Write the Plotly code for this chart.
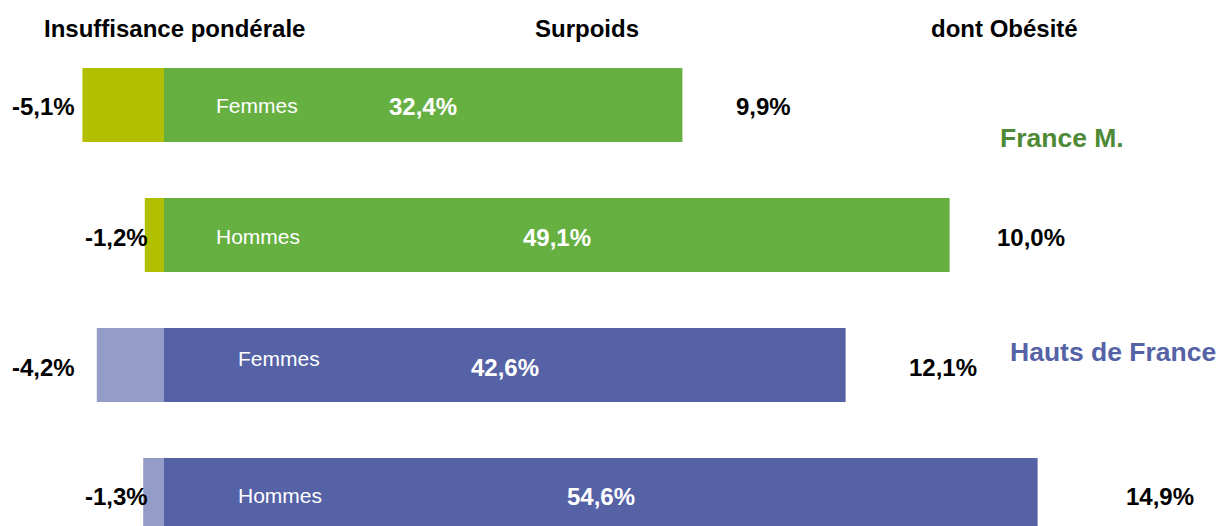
import plotly.graph_objects as go

# ---- data ----
rows = ["Femmes", "Hommes", "Femmes", "Hommes"]
groups = ["France M.", "Hauts de France"]
insuffisance = [-5.1, -1.2, -4.2, -1.3]
surpoids = [32.4, 49.1, 42.6, 54.6]
obesite = [9.9, 10.0, 12.1, 14.9]
headers = ["Insuffisance pondérale", "Surpoids", "dont Obésité"]

# ---- styles / layout positions ----
neg_colors = ["#B2BE00", "#B2BE00", "#939DC8", "#939DC8"]
pos_colors = ["#66B042", "#66B042", "#5562A6", "#5562A6"]
group_colors = ["#4E8A35", "#5562A6"]
neg_label_x = [-5.45, -0.85, -5.45, -0.9]
row_label_x = [3.15, 3.15, 4.5, 4.5]
row_label_shift = [0, -1, 7, 0]
value_shift = [-1, -2, -2, -1]
obes_label_x = [35.6, 51.95, 46.45, 60.0]
header_x = [0.66, 26.44, 52.5]
group_pos = [(56.1, 0.25), (59.3, 1.9)]

FONT = "Liberation Sans, Arial, sans-serif"
yidx = list(range(len(rows)))

def fmt(v):
    return f"{v:.1f}".replace(".", ",") + "%"

fig = go.Figure()
fig.add_trace(go.Bar(
    y=yidx, x=insuffisance, orientation="h", width=0.57,
    marker=dict(color=neg_colors, line=dict(width=0)),
    hoverinfo="skip", showlegend=False,
))
fig.add_trace(go.Bar(
    y=yidx, x=surpoids, orientation="h", width=0.57,
    marker=dict(color=pos_colors, line=dict(width=0)),
    hoverinfo="skip", showlegend=False,
))

ann = []
for i, v in enumerate(surpoids):
    ann.append(dict(x=v / 2, y=i, text=f"<b>{fmt(v)}</b>", xanchor="center",
                    yanchor="middle", showarrow=False, yshift=value_shift[i],
                    font=dict(family=FONT, size=24, color="white")))
for i, v in enumerate(insuffisance):
    ann.append(dict(x=neg_label_x[i], y=i, text=f"<b>{fmt(v)}</b>", xanchor="right",
                    yanchor="middle", showarrow=False, yshift=value_shift[i],
                    font=dict(family=FONT, size=24, color="black")))
for i, r in enumerate(rows):
    ann.append(dict(x=row_label_x[i], y=i, text=r, xanchor="left", yanchor="middle",
                    showarrow=False, yshift=row_label_shift[i],
                    font=dict(family=FONT, size=21, color="white")))
for i, v in enumerate(obesite):
    ann.append(dict(x=obes_label_x[i], y=i, text=f"<b>{fmt(v)}</b>", xanchor="left",
                    yanchor="middle", showarrow=False, yshift=value_shift[i],
                    font=dict(family=FONT, size=24, color="black")))
for h, hx in zip(headers, header_x):
    ann.append(dict(x=hx, y=-0.59, text=f"<b>{h}</b>", xanchor="center",
                    yanchor="middle", showarrow=False,
                    font=dict(family=FONT, size=24, color="black")))
for g, (gx, gy), c in zip(groups, group_pos, group_colors):
    ann.append(dict(x=gx, y=gy, text=f"<b>{g}</b>", xanchor="center", yanchor="middle",
                    showarrow=False, font=dict(family=FONT, size=26.5, color=c)))

fig.update_layout(
    width=1218, height=526,
    margin=dict(l=0, r=0, t=0, b=0),
    paper_bgcolor="white", plot_bgcolor="white",
    barmode="relative",
    xaxis=dict(range=[-164 / 16, (1218 - 164) / 16], visible=False, fixedrange=True),
    yaxis=dict(range=[(526 - 105) / 130, -105 / 130], visible=False, fixedrange=True),
    annotations=ann,
)

fig.write_html("out.html", config={"displayModeBar": False},
               post_script="document.body.style.margin='0';document.body.style.overflow='hidden';")
